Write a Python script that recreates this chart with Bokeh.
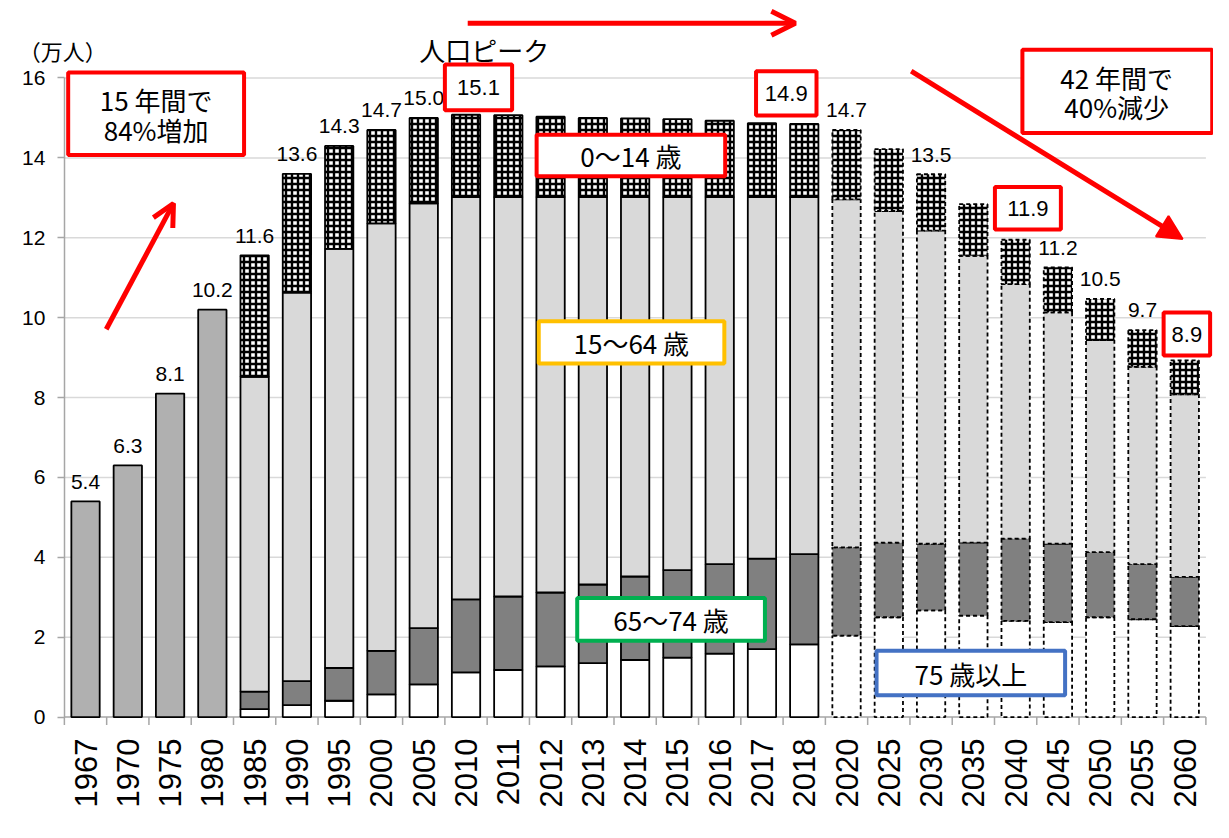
import math
from bokeh.plotting import figure
from bokeh.models import (ColumnDataSource, Range1d, FixedTicker, BoxAnnotation, Label,
                          Arrow, OpenHead, NormalHead)
from bokeh.embed import file_html
from bokeh.resources import INLINE
from bokeh.core.properties import value

# ---------------- data ----------------
years = ["1967", "1970", "1975", "1980", "1985", "1990", "1995", "2000", "2005",
         "2010", "2011", "2012", "2013", "2014", "2015", "2016", "2017", "2018",
         "2020", "2025", "2030", "2035", "2040", "2045", "2050", "2055", "2060"]

early_years = ["1967", "1970", "1975", "1980"]
early_total = [5.4, 6.3, 8.1, 10.2]

stack_years = ["1985", "1990", "1995", "2000", "2005",
               "2010", "2011", "2012", "2013", "2014", "2015", "2016", "2017", "2018",
               "2020", "2025", "2030", "2035", "2040", "2045", "2050", "2055", "2060"]
age_75plus = [0.20, 0.30, 0.41, 0.57, 0.82,
              1.12, 1.18, 1.27, 1.35, 1.43, 1.49, 1.59, 1.70, 1.82,
              2.04, 2.50, 2.67, 2.54, 2.41, 2.38, 2.50, 2.45, 2.28]
age_65_74 = [0.44, 0.60, 0.82, 1.09, 1.41,
             1.83, 1.84, 1.85, 1.97, 2.09, 2.19, 2.24, 2.27, 2.26,
             2.21, 1.87, 1.67, 1.83, 2.06, 1.96, 1.63, 1.38, 1.23]
age_15_64 = [7.88, 9.73, 10.49, 10.70, 10.63,
             10.07, 10.00, 9.90, 9.70, 9.50, 9.34, 9.19, 9.05, 8.94,
             8.71, 8.30, 7.84, 7.18, 6.37, 5.79, 5.31, 4.94, 4.57]
age_0_14 = [3.04, 2.97, 2.58, 2.34, 2.14,
            2.06, 2.05, 2.01, 1.98, 1.97, 1.95, 1.91, 1.85, 1.83,
            1.74, 1.55, 1.41, 1.29, 1.11, 1.13, 1.03, 0.92, 0.85]
projection_years = ["2020", "2025", "2030", "2035", "2040", "2045", "2050", "2055", "2060"]

label_years = ["1967", "1970", "1975", "1980", "1985", "1990", "1995", "2000", "2005",
               "2020", "2030", "2045", "2050", "2055"]
label_values = [5.4, 6.3, 8.1, 10.2, 11.6, 13.6, 14.3, 14.7, 15.0,
                14.7, 13.5, 11.2, 10.5, 9.7]

peak_years = ["2010", "2018", "2040", "2060"]
peak_values = [15.1, 14.9, 11.9, 8.9]

y_ticks = [0, 2, 4, 6, 8, 10, 12, 14, 16]

# ---------------- figure ----------------
NUM_FONT = "Liberation Sans"
JP_FONT = "Noto Sans CJK JP"
AXIS_GREY = "#a6a6a6"
N = len(years)

p = figure(width=1213, height=822, x_range=Range1d(-1.511, 27.18), y_range=Range1d(-0.36, 17.94),
           output_backend="svg", toolbar_location=None,
           min_border_left=0, min_border_right=0, min_border_top=0, min_border_bottom=91)
p.outline_line_color = None
p.background_fill_color = "white"
p.border_fill_color = "white"

# x axis: only the category labels live in the bottom panel
xa = p.xaxis[0]
xa.ticker = FixedTicker(ticks=[i + 0.5 for i in range(N)], minor_ticks=[])
xa.major_label_overrides = {i + 0.5: y for i, y in enumerate(years)}
xa.major_tick_line_color = None
xa.minor_tick_line_color = None
xa.major_tick_out = 0
xa.major_tick_in = 0
xa.axis_line_color = None
xa.major_label_orientation = math.pi / 2
xa.major_label_standoff = 7
xa.major_label_text_font = NUM_FONT
xa.major_label_text_font_size = "31px"
xa.major_label_text_color = "black"

ya = p.yaxis[0]
ya.fixed_location = 0
ya.ticker = FixedTicker(ticks=y_ticks)
ya.bounds = (y_ticks[0], y_ticks[-1])
ya.minor_tick_line_color = None
ya.major_tick_out = 7
ya.major_tick_in = 0
ya.major_tick_line_color = AXIS_GREY
ya.major_tick_line_width = 1.5
ya.major_label_standoff = 12
ya.major_label_text_font = NUM_FONT
ya.major_label_text_font_size = "21px"
ya.major_label_text_color = "black"
ya.axis_line_color = AXIS_GREY
ya.axis_line_width = 1.5

p.xgrid.visible = False
p.ygrid.visible = False
# horizontal gridlines only across the plotting area
grid_y = y_ticks[1:]
p.segment(x0=[0] * len(grid_y), x1=[N] * len(grid_y), y0=grid_y, y1=grid_y,
          line_color="#d9d9d9", line_width=1.5)
# category axis line and the tick marks between categories
p.segment(x0=[0], x1=[N], y0=[0], y1=[0], line_color=AXIS_GREY, line_width=1.5)
tick_len = 0.2
p.segment(x0=list(range(N + 1)), x1=list(range(N + 1)), y0=[0] * (N + 1),
          y1=[-tick_len] * (N + 1), line_color=AXIS_GREY, line_width=1.5)

BAR_W = 0.67
xpos = {y: i + 0.5 for i, y in enumerate(years)}

# early total bars
p.vbar(x=[xpos[y] for y in early_years], top=early_total, bottom=0, width=BAR_W,
       fill_color="#b0b0b0", line_color="black", line_width=1.8)

# stacked bars
segments = [(age_75plus, dict(fill_color="white")),
            (age_65_74, dict(fill_color="#808080")),
            (age_15_64, dict(fill_color="#d9d9d9")),
            (age_0_14, dict(fill_color="white", hatch_pattern="cross", hatch_color="black",
                            hatch_scale=6, hatch_weight=2.4))]

totals = dict(zip(early_years, early_total))
for group_future in (False, True):
    idx = [i for i, y in enumerate(stack_years) if (y in projection_years) == group_future]
    bottoms = [0.0] * len(idx)
    for vals, style in segments:
        tops = [b + vals[i] for b, i in zip(bottoms, idx)]
        src = ColumnDataSource(dict(x=[xpos[stack_years[i]] for i in idx], bottom=bottoms, top=tops))
        extra = dict(line_dash="4 3") if group_future else {}
        p.vbar(x="x", bottom="bottom", top="top", width=BAR_W, source=src,
               line_color="black", line_width=1.8, **style, **extra)
        bottoms = tops
    for b, i in zip(bottoms, idx):
        totals[stack_years[i]] = b

# total value labels
LABEL_GAP = 0.49
p.text(x=[xpos[y] for y in label_years], y=[totals[y] + LABEL_GAP for y in label_years],
       text=[f"{v:.1f}" for v in label_values], text_align="center", text_baseline="middle",
       text_font=value(NUM_FONT), text_font_size="21px", text_color="black")

RED = "#ff0000"


def boxed(left, right, bottom, top, color, width=4):
    p.add_layout(BoxAnnotation(left=left, right=right, bottom=bottom, top=top,
                               fill_color="white", fill_alpha=1.0,
                               line_color=color, line_width=width, line_alpha=1.0))


def label(x, y, text, font=JP_FONT, size="26px"):
    p.add_layout(Label(x=x, y=y, text=text, text_font=font, text_font_size=size,
                       text_align="center", text_baseline="middle", text_color="black"))


# peak value boxes
peak_boxes = [(9.0, 10.59, 15.19, 16.34), (16.36, 17.79, 15.06, 16.17),
              (22.01, 23.57, 12.21, 13.27), (26.0, 27.1, 9.05, 10.13)]
for (l, r, b, t), v in zip(peak_boxes, peak_values):
    boxed(l, r, b, t, RED)
    label((l + r) / 2, (b + t) / 2, f"{v:.1f}", font=NUM_FONT, size="22px")

# age group boxes
boxed(11.17, 15.63, 13.54, 14.58, RED)
label(13.40, 14.06, "0～14 歳")
boxed(11.22, 15.61, 8.85, 9.91, "#ffc000")
label(13.41, 9.38, "15～64 歳")
boxed(12.13, 16.57, 1.91, 2.98, "#00b050")
label(14.35, 2.44, "65～74 歳")
boxed(19.21, 23.67, 0.55, 1.66, "#4472c4")
label(21.44, 1.10, "75 歳以上")

# commentary boxes
boxed(0.09, 4.25, 14.07, 16.14, RED)
label(2.17, 15.46, "15 年間で")
label(2.17, 14.72, "84%増加")
boxed(22.66, 27.15, 14.62, 16.71, RED)
label(24.89, 16.00, "42 年間で")
label(24.89, 15.29, "40%減少")

label(9.93, 16.71, "人口ピーク")
label(-0.04, 16.71, "（万人）", size="22px")

# arrows
p.add_layout(Arrow(end=OpenHead(line_color=RED, line_width=5, size=24),
                   x_start=9.54, y_start=17.37, x_end=17.29, y_end=17.37,
                   line_color=RED, line_width=5))
p.add_layout(Arrow(end=NormalHead(fill_color=RED, line_color=RED, line_width=2, size=24),
                   x_start=20.03, y_start=16.17, x_end=26.45, y_end=11.97,
                   line_color=RED, line_width=5))
p.add_layout(Arrow(end=OpenHead(line_color=RED, line_width=5, size=22),
                   x_start=0.99, y_start=9.71, x_end=2.58, y_end=12.86,
                   line_color=RED, line_width=5))

open("out.html", "w").write(file_html(p, INLINE))
